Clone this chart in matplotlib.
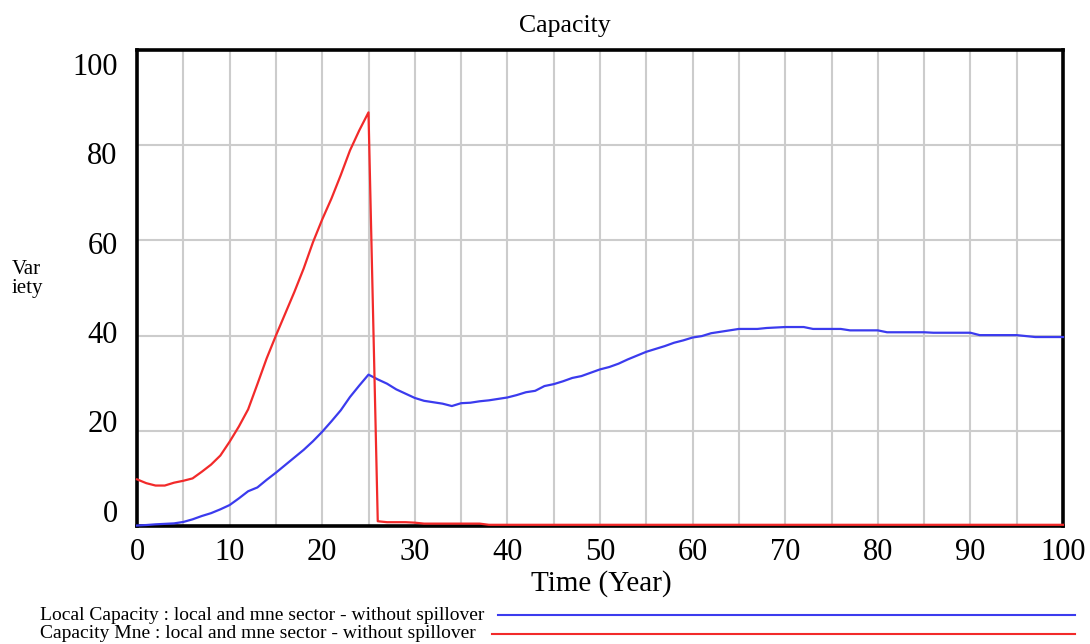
import matplotlib
matplotlib.use("Agg")
import matplotlib.pyplot as plt
from matplotlib.lines import Line2D

# ---------------- data ----------------
time = list(range(0, 101))

local_capacity = [
    0.1, 0.2, 0.35, 0.45, 0.55, 0.85, 1.4, 2.1, 2.7, 3.5,
    4.4, 5.8, 7.3, 8.1, 9.7, 11.2, 12.8, 14.4, 16.0, 17.8,
    19.8, 22.0, 24.3, 27.1, 29.5, 31.8, 30.8, 29.9, 28.7, 27.8,
    26.9, 26.3, 26.0, 25.7, 25.2, 25.8, 25.9, 26.2, 26.4, 26.7,
    27.0, 27.5, 28.1, 28.4, 29.4, 29.8, 30.4, 31.1, 31.5, 32.2,
    32.9, 33.4, 34.1, 35.0, 35.8, 36.6, 37.2, 37.8, 38.5, 39.0,
    39.6, 39.9, 40.5, 40.8, 41.1, 41.4, 41.4, 41.4, 41.6, 41.7,
    41.8, 41.8, 41.8, 41.4, 41.4, 41.4, 41.4, 41.1, 41.1, 41.1,
    41.1, 40.7, 40.7, 40.7, 40.7, 40.7, 40.6, 40.6, 40.6, 40.6,
    40.6, 40.1, 40.1, 40.1, 40.1, 40.1, 39.9, 39.7, 39.7, 39.7,
    39.7,
]

capacity_mne = [
    9.8, 9.0, 8.5, 8.5, 9.1, 9.5, 10.0, 11.4, 12.9, 14.8,
    17.7, 20.9, 24.5, 29.8, 35.2, 40.0, 44.6, 49.2, 54.1, 59.6,
    64.4, 68.8, 73.7, 78.9, 83.1, 86.9, 1.0, 0.8, 0.8, 0.8,
    0.7, 0.5, 0.5, 0.5, 0.5, 0.5, 0.5, 0.5, 0.25, 0.25,
] + [0.25] * 61

x_ticks = [0, 10, 20, 30, 40, 50, 60, 70, 80, 90, 100]
x_tick_labels = ["0", "10", "20", "30", "40", "50", "60", "70", "80", "90", "100"]
y_ticks = [0, 20, 40, 60, 80, 100]
y_tick_labels = ["0", "20", "40", "60", "80", "100"]

title = "Capacity"
x_label = "Time (Year)"
y_label = "Var\niety"
legend_labels = [
    "Local Capacity : local and mne sector - without spillover",
    "Capacity Mne : local and mne sector - without spillover",
]

BLUE = "#3b3bee"
RED = "#f22a2a"
SERIF = ["Liberation Serif", "DejaVu Serif"]

# ---------------- figure ----------------
W, H = 1090, 644
fig = plt.figure(figsize=(W / 100, H / 100), dpi=100)
fig.patch.set_facecolor("white")

ax_l, ax_r, ax_t, ax_b = 137, 1063, 50, 526
ax = fig.add_axes([ax_l / W, 1 - ax_b / H, (ax_r - ax_l) / W, (ax_b - ax_t) / H])

ax.plot(time, local_capacity, color=BLUE, lw=1.6, zorder=3, clip_on=False)
ax.plot(time, capacity_mne, color=RED, lw=1.6, zorder=3, clip_on=False)

ax.set_xlim(0, 100)
ax.set_ylim(0, 100)

ax.set_xticks(x_ticks)
ax.set_xticklabels(x_tick_labels, fontsize=22, family=SERIF)
ax.set_xticks([t + 5 for t in x_ticks[:-1]], minor=True)
ax.set_yticks(y_ticks)
ax.set_yticklabels([])
ax.tick_params(axis="both", which="both", length=0)
ax.tick_params(axis="x", pad=9)

ax.grid(True, which="both", color="#cccccc", lw=1.5, zorder=0)
ax.set_axisbelow(True)

for sp in ax.spines.values():
    sp.set_color("black")
    sp.set_linewidth(2.6)
    sp.set_zorder(2.5)

# y tick labels (Vensim-style spread)
for v, lab in zip(y_ticks, y_tick_labels):
    ax.text(-0.021, 0.025 + 0.938 * v / 100, lab, transform=ax.transAxes,
            ha="right", va="center", fontsize=22, family=SERIF)

# titles and labels
fig.text(565 / W, 1 - 26 / H, title, ha="center", va="center",
         fontsize=18.5, family=SERIF)
fig.text(601 / W, 1 - 584 / H, x_label, ha="center", va="center",
         fontsize=21, family=SERIF)
fig.text(12 / W, 1 - 279 / H, y_label, ha="left", va="center",
         fontsize=15, family=SERIF, linespacing=1.0)

# legend (text left, sample line right)
leg_rows = [(615, 498, BLUE), (634, 492, RED)]
for (ypx, x0, col), lab in zip(leg_rows, legend_labels):
    fig.text(40 / W, 1 - ypx / H, lab, ha="left", va="center",
             fontsize=14, family=SERIF)
    fig.lines.append(Line2D([x0 / W, 1075 / W], [1 - ypx / H, 1 - ypx / H],
                            color=col, lw=1.5, transform=fig.transFigure))

fig.savefig("out.png", dpi=100, facecolor="white")
